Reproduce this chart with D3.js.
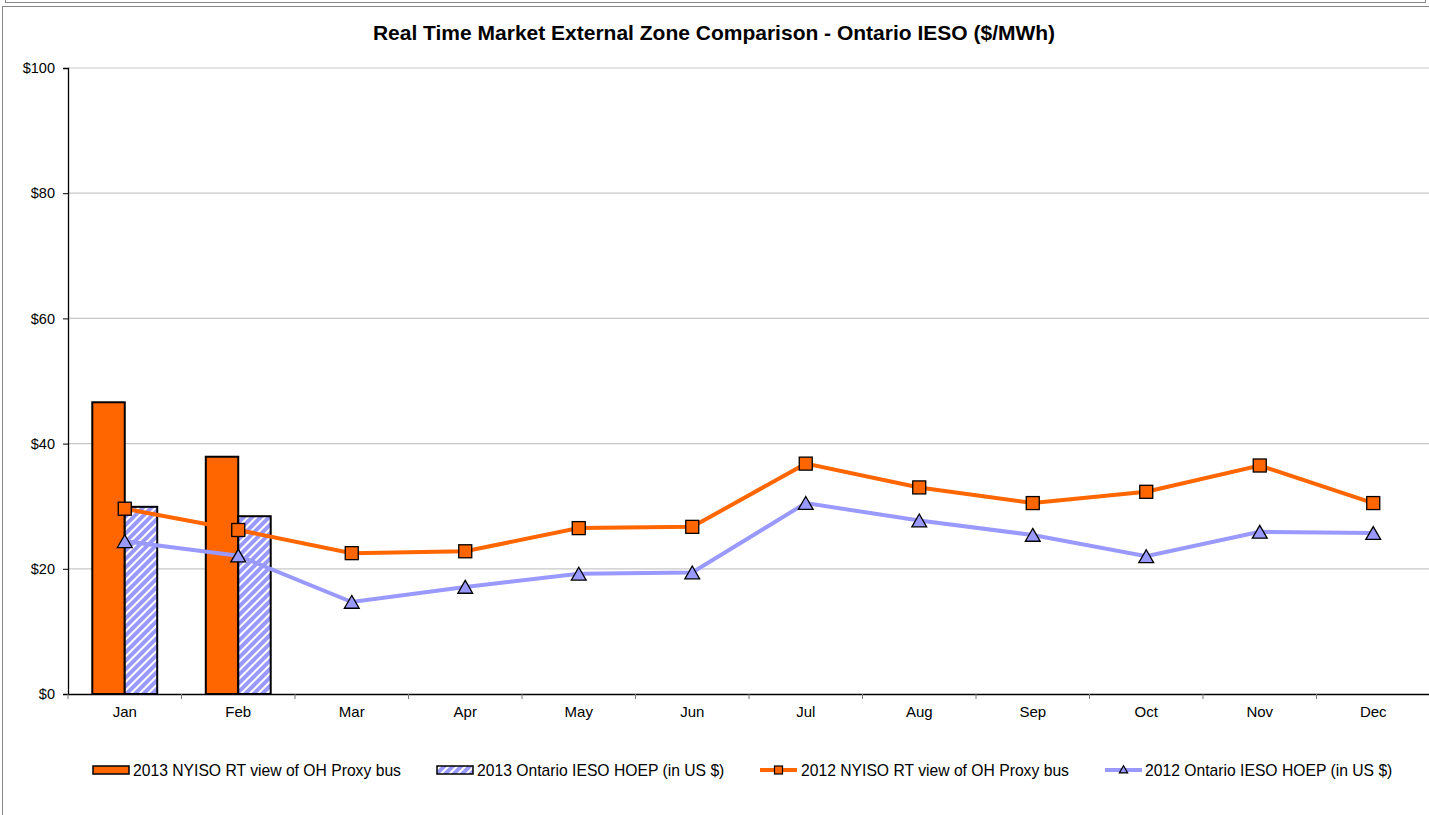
<!DOCTYPE html>
<html>
<head>
<meta charset="utf-8">
<script src="https://cdn.jsdelivr.net/npm/d3@7"></script>
<style>
  body { margin: 0; background: #fff; }
  svg { font-family: "Liberation Sans", Arial, sans-serif; }
</style>
</head>
<body>
<svg id="chart" width="1429" height="815"></svg>
<script>
let months = ["Jan", "Feb", "Mar", "Apr", "May", "Jun", "Jul", "Aug", "Sep", "Oct", "Nov", "Dec"];
let nyiso2013 = [46.6, 37.9];
let ieso2013 = [29.9, 28.4];
let nyiso2012 = [29.6, 26.2, 22.5, 22.8, 26.5, 26.7, 36.8, 33.0, 30.5, 32.3, 36.5, 30.5];
let ieso2012 = [24.4, 22.1, 14.7, 17.1, 19.2, 19.4, 30.5, 27.7, 25.4, 22.0, 25.9, 25.7];
let yTicks = [0, 20, 40, 60, 80, 100];
let seriesNames = ["2013 NYISO RT view of OH Proxy bus", "2013 Ontario IESO HOEP (in US $)",
                   "2012 NYISO RT view of OH Proxy bus", "2012 Ontario IESO HOEP (in US $)"];

let orange = "#FF6600";
let lilac = "#9999FF";

let svg = d3.select("#chart");

// hatch pattern for the 2013 IESO bars
let defs = svg.append("defs");
let pat = defs.append("pattern")
  .attr("id", "hatch")
  .attr("patternUnits", "userSpaceOnUse")
  .attr("width", 6)
  .attr("height", 6)
  .attr("patternTransform", "rotate(45)");
pat.append("rect").attr("width", 6).attr("height", 6).attr("fill", lilac);
pat.append("rect").attr("x", 0).attr("width", 2).attr("height", 6).attr("fill", "#fff");

// outer frames
svg.append("rect").attr("x", 5.5).attr("y", -5).attr("width", 1420).attr("height", 7.5)
  .attr("fill", "none").attr("stroke", "#888").attr("stroke-width", 1);
svg.append("rect").attr("x", 2.5).attr("y", 6.5).attr("width", 1430).attr("height", 820)
  .attr("fill", "none").attr("stroke", "#888").attr("stroke-width", 1);

let plot = { left: 68, right: 1430, top: 68, bottom: 694 };

let x = d3.scaleBand().domain(months).range([plot.left, plot.right]);
let y = d3.scaleLinear().domain([0, 100]).range([plot.bottom, plot.top]);
let barW = x.bandwidth() * 0.286;

// title
svg.append("text")
  .attr("x", 714).attr("y", 40)
  .attr("text-anchor", "middle")
  .style("font-weight", "bold")
  .style("font-size", "21px")
  .text("Real Time Market External Zone Comparison - Ontario IESO ($/MWh)");

// gridlines
svg.append("g").selectAll("line")
  .data(yTicks.filter(d => d > 0))
  .enter().append("line")
    .attr("x1", plot.left).attr("x2", plot.right)
    .attr("y1", d => y(d)).attr("y2", d => y(d))
    .attr("stroke", "#c8c8c8").attr("stroke-width", 1.2);

// y axis
let yAxis = svg.append("g")
  .attr("transform", `translate(${plot.left},0)`)
  .call(d3.axisLeft(y).tickValues(yTicks).tickSize(5).tickFormat(d => "$" + d));
yAxis.select(".domain").attr("stroke", "#000").attr("stroke-width", 1.3);
yAxis.selectAll(".tick line").attr("stroke", "#000");
yAxis.selectAll("text").style("font-size", "14.5px").attr("fill", "#000").attr("dx", "-5");

// bars
svg.append("g").selectAll("rect")
  .data(nyiso2013)
  .enter().append("rect")
    .attr("x", (d, i) => x(months[i]) + x.bandwidth() / 2 - barW)
    .attr("y", d => y(d))
    .attr("width", barW)
    .attr("height", d => y(0) - y(d))
    .attr("fill", orange)
    .attr("stroke", "#000").attr("stroke-width", 2);
svg.append("g").selectAll("rect")
  .data(ieso2013)
  .enter().append("rect")
    .attr("x", (d, i) => x(months[i]) + x.bandwidth() / 2)
    .attr("y", d => y(d))
    .attr("width", barW)
    .attr("height", d => y(0) - y(d))
    .attr("fill", "url(#hatch)")
    .attr("stroke", "#000").attr("stroke-width", 2);

// x axis
let xAxis = svg.append("g")
  .attr("transform", `translate(0,${plot.bottom})`)
  .call(d3.axisBottom(x).tickSize(0).tickPadding(12));
xAxis.select(".domain").attr("stroke", "#000").attr("stroke-width", 1.5);
xAxis.selectAll("text").style("font-size", "15px").attr("fill", "#000");
svg.append("g").selectAll("line")
  .data(months)
  .enter().append("line")
    .attr("x1", d => x(d)).attr("x2", d => x(d))
    .attr("y1", plot.bottom).attr("y2", plot.bottom + 5)
    .attr("stroke", "#777");

// lines
let cx = (d, i) => x(months[i]) + x.bandwidth() / 2;
let line = d3.line().x(cx).y(d => y(d));

svg.append("path").datum(ieso2012)
  .attr("d", line).attr("fill", "none")
  .attr("stroke", lilac).attr("stroke-width", 4);
svg.append("path").datum(nyiso2012)
  .attr("d", line).attr("fill", "none")
  .attr("stroke", orange).attr("stroke-width", 4);

// triangle marker, box centred on the value
let tri = d3.symbol().type(d3.symbolTriangle).size(95);
svg.append("g").selectAll("path")
  .data(ieso2012)
  .enter().append("path")
    .attr("d", tri)
    .attr("transform", (d, i) => `translate(${cx(d, i)},${y(d) + 2})`)
    .attr("fill", lilac).attr("stroke", "#000").attr("stroke-width", 1.3);
svg.append("g").selectAll("rect")
  .data(nyiso2012)
  .enter().append("rect")
    .attr("x", (d, i) => cx(d, i) - 6.5)
    .attr("y", d => y(d) - 6.5)
    .attr("width", 13).attr("height", 13)
    .attr("fill", orange).attr("stroke", "#000").attr("stroke-width", 1.3);

// legend
let lg = svg.append("g");
let ly = 770;
let legX = [93, 437, 760, 1105];

lg.append("rect").attr("x", legX[0]).attr("y", ly - 4).attr("width", 36).attr("height", 8)
  .attr("fill", orange).attr("stroke", "#000").attr("stroke-width", 1.5);
lg.append("rect").attr("x", legX[1]).attr("y", ly - 4).attr("width", 36).attr("height", 8)
  .attr("fill", "url(#hatch)").attr("stroke", "#000").attr("stroke-width", 1.5);

lg.append("line").attr("x1", legX[2]).attr("x2", legX[2] + 37).attr("y1", ly).attr("y2", ly)
  .attr("stroke", orange).attr("stroke-width", 4);
lg.append("rect").attr("x", legX[2] + 14.5).attr("y", ly - 4).attr("width", 8).attr("height", 8)
  .attr("fill", orange).attr("stroke", "#000").attr("stroke-width", 1.2);

lg.append("line").attr("x1", legX[3]).attr("x2", legX[3] + 37).attr("y1", ly).attr("y2", ly)
  .attr("stroke", lilac).attr("stroke-width", 4);
lg.append("path").attr("d", d3.symbol().type(d3.symbolTriangle).size(30))
  .attr("transform", `translate(${legX[3] + 18.5},${ly + 0.5})`)
  .attr("fill", lilac).attr("stroke", "#000").attr("stroke-width", 1.2);

let textX = [133, 477, 801, 1145];
lg.selectAll("text")
  .data(seriesNames)
  .enter().append("text")
    .attr("x", (d, i) => textX[i])
    .attr("y", ly + 5.5)
    .style("font-size", "15.7px")
    .text(d => d);
</script>
</body>
</html>
